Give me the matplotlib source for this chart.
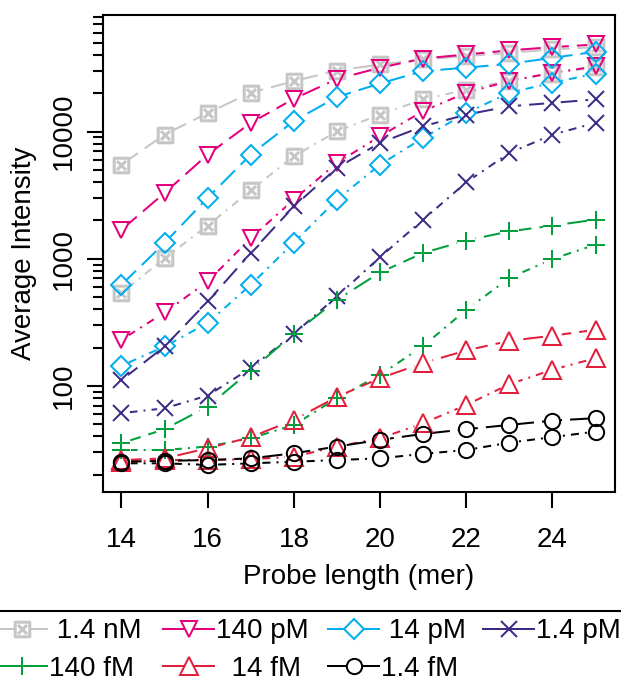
import numpy as np
import matplotlib.pyplot as plt
from matplotlib.lines import Line2D
from matplotlib.path import Path
from matplotlib.ticker import FixedLocator, LogLocator, NullFormatter

plt.rcParams['font.family'] = ['Liberation Sans', 'DejaVu Sans']

# probe length (mer)
length = np.arange(14, 26)

# average intensity, two replicate series per concentration
# (a = long dash, b = dot-dash)
nM1_4_a = [5500, 9460, 14000, 20200, 24900, 30200, 33700, 36900, 39200, 41600, 44300, 46100]
nM1_4_b = [536, 1010, 1820, 3450, 6400, 10050, 13600, 17900, 21400, 25200, 28600, 32100]
pM140_a = [1690, 3290, 6590, 11700, 18100, 25900, 31800, 37500, 40400, 43500, 46100, 48400]
pM140_b = [230, 378, 662, 1450, 2920, 5680, 9180, 14500, 20200, 25000, 29000, 32500]
pM14_a = [624, 1330, 3010, 6590, 12100, 18700, 23900, 29900, 31800, 34100, 38000, 42400]
pM14_b = [144, 204, 312, 624, 1340, 2920, 5500, 8910, 14000, 20200, 24200, 28600]
pM1_4_a = [111, 204, 461, 1110, 2580, 5180, 8150, 11000, 13600, 15800, 16800, 17900]
pM1_4_b = [61, 66.6, 83.9, 138, 257, 505, 1030, 2030, 3990, 6790, 9460, 11700]
fM140_a = [35.4, 45.6, 68.7, 132, 257, 475, 780, 1110, 1390, 1640, 1820, 2030]
fM140_b = [31.3, 31.3, 33.3, 38.7, 49.3, 80, 122, 206, 396, 705, 995, 1290]
fM14_a = [26.1, 26.9, 32.3, 39.5, 54, 82, 115, 151, 190, 226, 248, 276]
fM14_b = [25.3, 26.1, 26.1, 26.5, 27.7, 33.3, 38.7, 50.8, 70.8, 103, 134, 165]
fM1_4_a = [25.3, 25.7, 26.1, 26.9, 29.5, 33.3, 37.6, 41.9, 45.6, 49.3, 53.3, 55.7]
fM1_4_b = [24.6, 24.6, 23.9, 24.6, 25.3, 26.1, 26.9, 29.2, 31.3, 35.8, 39.5, 43.7]

labels = ['1.4 nM', '140 pM', '14 pM', '1.4 pM', '140 fM', '14 fM', '1.4 fM']

# square with a cross inside
boxx = Path([(-1, -1), (1, -1), (1, 1), (-1, 1), (-1, -1),
             (-0.62, -0.62), (0.62, 0.62), (-0.62, 0.62), (0.62, -0.62)],
            [Path.MOVETO, Path.LINETO, Path.LINETO, Path.LINETO, Path.CLOSEPOLY,
             Path.MOVETO, Path.LINETO, Path.MOVETO, Path.LINETO])

colors = ['#c6c6c6', '#e4007c', '#00aeef', '#3f2b86', '#00a03c', '#e2203c', 'black']
markers = [boxx, 'v', 'D', 'x', '+', '^', 'o']
msizes = [10.5, 12, 10, 11, 12.5, 12.5, 11]
mews = [2.2, 1.45, 1.45, 1.45, 1.45, 1.45, 1.45]
series = [(nM1_4_a, nM1_4_b), (pM140_a, pM140_b), (pM14_a, pM14_b), (pM1_4_a, pM1_4_b),
          (fM140_a, fM140_b), (fM14_a, fM14_b), (fM1_4_a, fM1_4_b)]

long_dash = (0, (10, 4))
dot_dash = (0, (1, 3, 4, 3))
lw = 1.45

fig = plt.figure(figsize=(6.21, 6.86), dpi=100)
ax = fig.add_axes([0.1651, 0.2822, 0.8245, 0.696])

handles = []
for (a, b), c, m, ms, mew in zip(series, colors, markers, msizes, mews):
    for vals, ls in ((a, long_dash), (b, dot_dash)):
        ax.plot(length, vals, color=c, lw=lw, ls=ls, zorder=1)
        # white halo so the line stops short of the point
        ax.plot(length, vals, ls='none', marker='o', ms=ms * 1.1,
                mfc='white', mec='none', zorder=2)
        ax.plot(length, vals, ls='none', marker=m, ms=ms, mfc='none',
                mec=c, mew=mew, zorder=3)
    handles.append(Line2D([], [], color=c, lw=lw, marker=m, ms=ms,
                          mfc='white', mec=c, mew=mew))

ax.set_yscale('log')
ax.set_ylim(10 ** 1.162, 10 ** 4.917)
ax.set_xlim(13.56, 25.44)
ax.set_xticks([14, 16, 18, 20, 22, 24])
ax.yaxis.set_major_locator(FixedLocator([100, 1000, 10000]))
ax.set_yticklabels(['100', '1000', '10000'])
ax.yaxis.set_minor_locator(LogLocator(base=10, subs=np.arange(2, 10)))
ax.yaxis.set_minor_formatter(NullFormatter())

ax.tick_params(which='major', length=11.5, width=1.5, labelsize=20)
ax.tick_params(which='minor', length=7, width=1.5)
ax.tick_params(axis='x', pad=13.5)
ax.tick_params(axis='y', pad=7, labelrotation=90)
plt.setp(ax.get_yticklabels(), va='center')
for s in ax.spines.values():
    s.set_linewidth(1.5)

ax.set_xlabel('Probe length (mer)', fontsize=20)
ax.set_ylabel('Average Intensity', fontsize=20)
ax.xaxis.set_label_coords(0.5, -0.15)
ax.yaxis.set_label_coords(-0.128, 0.5)

# legend: four columns, filled row by row
columns = [([0, 4], [' 1.4 nM', '140 fM']),
           ([1, 5], ['140 pM', '  14 fM']),
           ([2, 6], [' 14 pM', '1.4 fM']),
           ([3], ['1.4 pM'])]
col_x = [-0.0064, 0.2625, 0.5282, 0.7778]
for (idx, labs), x0 in zip(columns, col_x):
    fig.legend([handles[i] for i in idx], labs, loc='upper left',
               bbox_to_anchor=(x0, 0.0984), frameon=False, fontsize=20,
               handlelength=1.84, handletextpad=0.07, borderpad=0,
               borderaxespad=0, labelspacing=0.4, numpoints=1)
fig.add_artist(Line2D([0, 1], [0.1093, 0.1093], transform=fig.transFigure,
                      color='black', lw=1.5))

fig.savefig('out.png', dpi=100)
